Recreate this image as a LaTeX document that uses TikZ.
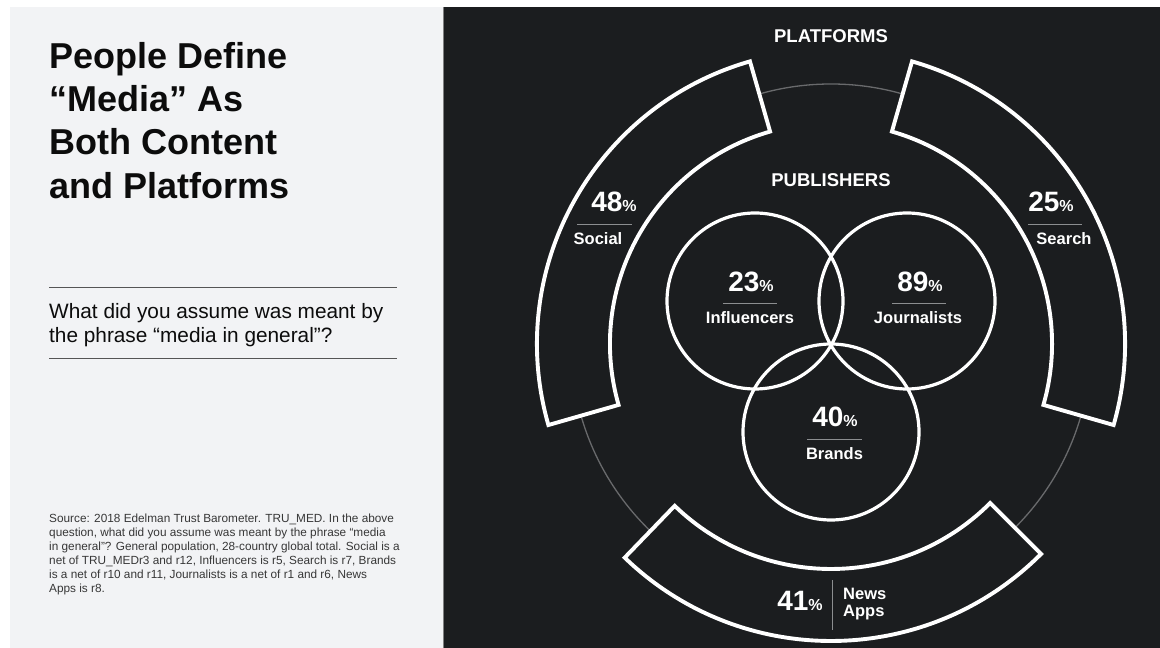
\documentclass[tikz,border=0pt]{standalone}
\usepackage{fontspec}
\setmainfont{Liberation Sans}
\definecolor{bgdark}{RGB}{27,29,31}
\definecolor{bglight}{RGB}{242,243,245}
\definecolor{ringgray}{RGB}{105,106,108}
\definecolor{sepgray}{RGB}{140,142,144}
\definecolor{rulegray}{RGB}{85,85,85}
\definecolor{inkdark}{RGB}{12,12,12}
\definecolor{inksrc}{RGB}{55,55,55}
\newcommand{\pcts}{{\fontsize{16}{16}\selectfont\%}}
\begin{document}
\begin{tikzpicture}[x=1pt,y=1pt,
  seg/.style={draw=white, line width=3.9pt, fill=bgdark, line join=miter},
  venn/.style={circle, draw=white, line width=3.2pt, minimum size=176pt, inner sep=0pt},
  num/.style={text=white, font=\fontsize{28}{28}\selectfont\bfseries, inner sep=0pt, anchor=base},
  lbl/.style={text=white, font=\fontsize{16.5}{16.5}\selectfont\bfseries, inner sep=0pt, anchor=base},
  lblw/.style={lbl, anchor=base west},
  head/.style={text=white, font=\fontsize{18.5}{18.5}\selectfont\bfseries, inner sep=0pt, anchor=base},
  sepline/.style={draw=sepgray, line width=1pt},
  ttl/.style={text=inkdark, font=\fontsize{36}{43}\selectfont\bfseries, inner sep=0pt, anchor=base west},
  qst/.style={text=inkdark, font=\fontsize{20.8}{24}\selectfont, inner sep=0pt, anchor=base west},
  src/.style={text=inksrc, font=\fontsize{11.8}{14}\selectfont, inner sep=0pt, anchor=base west},
]
\useasboundingbox (0,0) rectangle (1160,648);
\fill[white] (0,0) rectangle (1160,648);
\fill[bglight] (10,0) rectangle (444,641);
\fill[bgdark] (444,0) rectangle (1160,641);
\draw[gray, line width=1pt] (443.5,0) -- (443.5,641);

% left panel
\node[ttl] (t1) at (49,579) {People Define};
\node[ttl] (t2) at (49,536) {“Media” As};
\node[ttl] (t3) at (49,493) {Both Content};
\node[ttl] (t4) at (49,449) {and Platforms};

\draw[rulegray, line width=1pt] (49,360) -- (397,360);
\node[qst] (q1) at (49,329) {What did you assume was meant by};
\node[qst] (q2) at (49,305) {the phrase “media in general”?};
\draw[rulegray, line width=1pt] (49,289) -- (397,289);

\node[src] (s1) at (49,125) {Source: 2018 Edelman Trust Barometer. TRU\_MED. In the above};
\node[src] (s2) at (49,111) {question, what did you assume was meant by the phrase “media};
\node[src] (s3) at (49,97) {in general”? General population, 28-country global total. Social is a};
\node[src] (s4) at (49,83) {net of TRU\_MEDr3 and r12, Influencers is r5, Search is r7, Brands};
\node[src] (s5) at (49,69) {is a net of r10 and r11, Journalists is a net of r1 and r6, News};
\node[src] (s6) at (49,55) {Apps is r8.};

% diagram
\coordinate (C) at (831,304);
\draw[ringgray, line width=1.3pt] (C) circle[radius=260];
\begin{scope}[shift={(831,304)}]
\draw[seg] (106:221) arc[start angle=106, end angle=196, radius=221] -- (196:294) arc[start angle=196, end angle=106, radius=294] -- cycle;
\draw[seg] (-16:221) arc[start angle=-16, end angle=74, radius=221] -- (74:294) arc[start angle=74, end angle=-16, radius=294] -- cycle;
\draw[seg] (226:225) arc[start angle=226, end angle=315, radius=225] -- (315:297) arc[start angle=315, end angle=226, radius=297] -- cycle;
\end{scope}

\node[venn] (infl) at (755,347) {};
\node[venn] (jour) at (907,347) {};
\node[venn] (brand) at (831,216) {};

\node[head] (plat) at (831,605) {PLATFORMS};
\node[head] (pub) at (831,461) {PUBLISHERS};

\node[num] (socn) at (614,436) {48\pcts};
\draw[sepline] (577,423) -- (632,423);
\node[lbl] (socl) at (598,403) {Social};

\node[num] (srcn) at (1051,436) {25\pcts};
\draw[sepline] (1028,423) -- (1082,423);
\node[lbl] (srcl) at (1064,403) {Search};

\node[num] (infn) at (751,356) {23\pcts};
\draw[sepline] (723,344) -- (777,344);
\node[lbl] (infll) at (750,324) {Influencers};

\node[num] (journ) at (920,356) {89\pcts};
\draw[sepline] (892,344) -- (946,344);
\node[lbl] (jourl) at (918,324) {Journalists};

\node[num] (brn) at (835,221) {40\pcts};
\draw[sepline] (807,208) -- (862,208);
\node[lbl] (brl) at (834.5,188) {Brands};

\node[num] (newsn) at (800,37) {41\pcts};
\draw[sepline] (832,68) -- (832,18);
\node[lblw] (newsl1) at (843,48) {News};
\node[lblw] (newsl2) at (843,31) {Apps};
\end{tikzpicture}
\end{document}
